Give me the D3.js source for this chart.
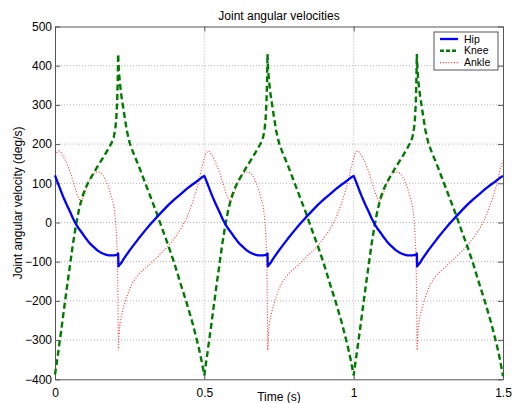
<!DOCTYPE html>
<html>
<head>
<meta charset="utf-8">
<script src="https://cdn.jsdelivr.net/npm/d3@7"></script>
<style>
  body { margin: 0; background: #fff; }
  svg { display: block; font-family: "Liberation Sans", Arial, sans-serif; }
</style>
</head>
<body>
<figure id="chart" style="margin:0"></figure>
<script>
// sample times (s)
const time = [
  0, 0.005, 0.01, 0.013, 0.02, 0.03, 0.04, 0.05, 0.06, 0.07, 0.075, 0.08, 0.087, 0.09, 0.10, 0.11, 0.12, 0.13, 0.14, 0.15, 0.16, 0.17, 0.18, 0.19, 0.197, 0.202, 0.205, 0.208, 0.21, 0.2115, 0.2125, 0.214, 0.217, 0.222, 0.23, 0.24, 0.25, 0.26, 0.28, 0.30, 0.32, 0.34, 0.36, 0.38, 0.40, 0.42, 0.44, 0.46, 0.47, 0.48, 0.49,
  0.5, 0.505, 0.51, 0.513, 0.52, 0.53, 0.54, 0.55, 0.56, 0.57, 0.575, 0.58, 0.587, 0.59, 0.60, 0.61, 0.62, 0.63, 0.64, 0.65, 0.66, 0.67, 0.68, 0.69, 0.697, 0.702, 0.705, 0.708, 0.71, 0.7115, 0.7125, 0.714, 0.717, 0.722, 0.73, 0.74, 0.75, 0.76, 0.78, 0.80, 0.82, 0.84, 0.86, 0.88, 0.90, 0.92, 0.94, 0.96, 0.97, 0.98, 0.99,
  1.0, 1.005, 1.01, 1.013, 1.02, 1.03, 1.04, 1.05, 1.06, 1.07, 1.075, 1.08, 1.087, 1.09, 1.10, 1.11, 1.12, 1.13, 1.14, 1.15, 1.16, 1.17, 1.18, 1.19, 1.197, 1.202, 1.205, 1.208, 1.21, 1.2115, 1.2125, 1.214, 1.217, 1.222, 1.23, 1.24, 1.25, 1.26, 1.28, 1.30, 1.32, 1.34, 1.36, 1.38, 1.40, 1.42, 1.44, 1.46, 1.47, 1.48, 1.49,
  1.5
];

// joint angular velocities (deg/s)
const hip = [
  120, 110, 100, 94, 80, 61, 44, 28, 11, -4, -10, -16, -23, -26, -37, -47, -56, -63, -70, -75, -79, -82, -84, -84, -84, -83, -83, -82, -81, -79, -112, -110, -107, -103, -93, -82, -71, -61, -41, -22, -4, 13, 29, 45, 59, 72, 85, 97, 102, 108, 114,
  119, 110, 100, 94, 80, 61, 44, 28, 11, -4, -10, -16, -23, -26, -37, -47, -56, -63, -70, -75, -79, -82, -84, -84, -84, -83, -83, -82, -81, -79, -112, -110, -107, -103, -93, -82, -71, -61, -41, -22, -4, 13, 29, 45, 59, 72, 85, 97, 102, 108, 114,
  119, 110, 100, 94, 80, 61, 44, 28, 11, -4, -10, -16, -23, -26, -37, -47, -56, -63, -70, -75, -79, -82, -84, -84, -84, -83, -83, -82, -81, -79, -112, -110, -107, -103, -93, -82, -71, -61, -41, -22, -4, 13, 29, 45, 59, 72, 85, 97, 102, 108, 114,
  119
];

const knee = [
  -388, -362, -335, -318, -280, -222, -165, -110, -55, -8, 12, 32, 53, 62, 84, 100, 114, 127, 140, 152, 164, 177, 190, 204, 218, 240, 262, 305, 360, 430, 410, 385, 358, 325, 285, 236, 203, 182, 145, 105, 65, 25, -18, -60, -105, -155, -203, -255, -285, -315, -350,
  -390, -362, -335, -318, -280, -222, -165, -110, -55, -8, 12, 32, 53, 62, 84, 100, 114, 127, 140, 152, 164, 177, 190, 204, 218, 240, 262, 305, 360, 430, 410, 385, 358, 325, 285, 236, 203, 182, 145, 105, 65, 25, -18, -60, -105, -155, -203, -255, -285, -315, -350,
  -390, -362, -335, -318, -280, -222, -165, -110, -55, -8, 12, 32, 53, 62, 84, 100, 114, 127, 140, 152, 164, 177, 190, 204, 218, 240, 262, 305, 360, 430, 410, 385, 358, 325, 285, 236, 203, 182, 145, 105, 65, 25, -18, -60, -105, -155, -203, -255, -285, -315, -350,
  -392
];

const ankle = [
  172, 178, 181, 183, 179, 166, 149, 131, 106, 81, 70, 61, 54, 57, 75, 98, 115, 125, 129, 128, 122, 108, 89, 62, 42, 10, -20, -70, -150, -250, -326, -290, -262, -240, -215, -190, -170, -153, -132, -118, -105, -90, -75, -60, -40, -18, 10, 50, 74, 100, 135,
  163, 176, 181, 183, 179, 166, 149, 131, 106, 81, 70, 61, 54, 57, 75, 98, 115, 125, 129, 128, 122, 108, 89, 62, 42, 10, -20, -70, -150, -250, -326, -290, -262, -240, -215, -190, -170, -153, -132, -118, -105, -90, -75, -60, -40, -18, 10, 50, 74, 100, 135,
  163, 176, 181, 183, 179, 166, 149, 131, 106, 81, 70, 61, 54, 57, 75, 98, 115, 125, 129, 128, 122, 108, 89, 62, 42, 10, -20, -70, -150, -250, -326, -290, -262, -240, -215, -190, -170, -153, -132, -118, -105, -90, -75, -60, -40, -18, 10, 50, 74, 100, 135,
  158
];

const xTicks = [0, 0.5, 1, 1.5];
const yTicks = [-400, -300, -200, -100, 0, 100, 200, 300, 400, 500];
const seriesNames = ["Hip", "Knee", "Ankle"];

const W = 513, H = 403;
const mLeft = 55, mRight = 503, mTop = 26.5, mBottom = 379.3;

const svg = d3.select("figure#chart")
  .append("svg")
  .attr("width", W)
  .attr("height", H);

const x = d3.scaleLinear().domain([0, 1.5]).range([mLeft, mRight]);
const y = d3.scaleLinear().domain([-400, 500]).range([mBottom, mTop]);

// grid
const grid = svg.append("g")
  .attr("stroke", "#a0a0a0")
  .attr("stroke-width", 0.8)
  .attr("stroke-dasharray", "1,2");
grid.selectAll(".gx")
  .data(xTicks.slice(1, -1))
  .enter().append("line")
  .attr("x1", d => x(d)).attr("x2", d => x(d))
  .attr("y1", mTop).attr("y2", mBottom);
grid.selectAll(".gy")
  .data(yTicks.slice(1, -1))
  .enter().append("line")
  .attr("x1", mLeft).attr("x2", mRight)
  .attr("y1", d => y(d)).attr("y2", d => y(d));

// axes (MATLAB style: ticks inward, box on)
const axisColor = "#555";
svg.append("g")
  .attr("transform", "translate(0," + mBottom + ")")
  .call(d3.axisBottom(x).tickValues(xTicks).tickSizeInner(-5).tickSizeOuter(0).tickPadding(9)
    .tickFormat(d3.format("")));
svg.append("g")
  .attr("transform", "translate(" + mLeft + ",0)")
  .call(d3.axisLeft(y).tickValues(yTicks).tickSizeInner(-5).tickSizeOuter(0).tickPadding(3));
svg.append("g")
  .attr("transform", "translate(0," + mTop + ")")
  .call(d3.axisTop(x).tickValues(xTicks).tickSizeInner(-5).tickSizeOuter(0).tickFormat(""));
svg.append("g")
  .attr("transform", "translate(" + mRight + ",0)")
  .call(d3.axisRight(y).tickValues(yTicks).tickSizeInner(-5).tickSizeOuter(0).tickFormat(""));

svg.selectAll(".domain, .tick line").attr("stroke", axisColor).attr("stroke-width", 1);
svg.selectAll(".tick text")
  .attr("fill", "#000")
  .style("font-size", "12px")
  .style("font-family", "'Liberation Sans', Arial, sans-serif");

// lines
const line = vals => d3.line()
  .x((d, i) => x(time[i]))
  .y(d => y(d))(vals);

const plot = svg.append("g");
plot.append("path")
  .attr("d", line(ankle))
  .attr("fill", "none")
  .attr("stroke", "#ff3030")
  .attr("stroke-width", 1.1)
  .attr("stroke-dasharray", "1,1.8");
plot.append("path")
  .attr("d", line(knee))
  .attr("fill", "none")
  .attr("stroke", "#007a00")
  .attr("stroke-width", 2.4)
  .attr("stroke-dasharray", "6,3.5");
plot.append("path")
  .attr("d", line(hip))
  .attr("fill", "none")
  .attr("stroke", "#0000ff")
  .attr("stroke-width", 2.3)
  .attr("stroke-linejoin", "round");

// title and labels
svg.append("text")
  .attr("x", (mLeft + mRight) / 2).attr("y", 20)
  .attr("text-anchor", "middle")
  .style("font-size", "12px")
  .text("Joint angular velocities");
svg.append("text")
  .attr("x", (mLeft + mRight) / 2).attr("y", 401)
  .attr("text-anchor", "middle")
  .style("font-size", "12px")
  .text("Time (s)");
svg.append("text")
  .attr("transform", "translate(22," + ((mTop + mBottom) / 2) + ") rotate(-90)")
  .attr("text-anchor", "middle")
  .style("font-size", "12px")
  .text("Joint angular velocity (deg/s)");

// legend
const legend = svg.append("g").attr("transform", "translate(434,32)");
legend.append("rect")
  .attr("width", 64).attr("height", 38)
  .attr("fill", "#fff")
  .attr("stroke", axisColor);
const styles = [
  { c: "#0000ff", w: 2.3, d: null },
  { c: "#007a00", w: 2.4, d: "4,2" },
  { c: "#ff3030", w: 1.1, d: "1,1.8" }
];
const items = legend.selectAll(".item")
  .data(seriesNames)
  .enter().append("g")
  .attr("transform", (d, i) => "translate(0," + (7 + i * 11.8) + ")");
items.append("line")
  .attr("x1", 6).attr("x2", 24)
  .attr("stroke", (d, i) => styles[i].c)
  .attr("stroke-width", (d, i) => styles[i].w)
  .attr("stroke-dasharray", (d, i) => styles[i].d);
items.append("text")
  .attr("x", 30).attr("dy", "0.35em")
  .style("font-size", "10.5px")
  .text(d => d);
</script>
</body>
</html>
